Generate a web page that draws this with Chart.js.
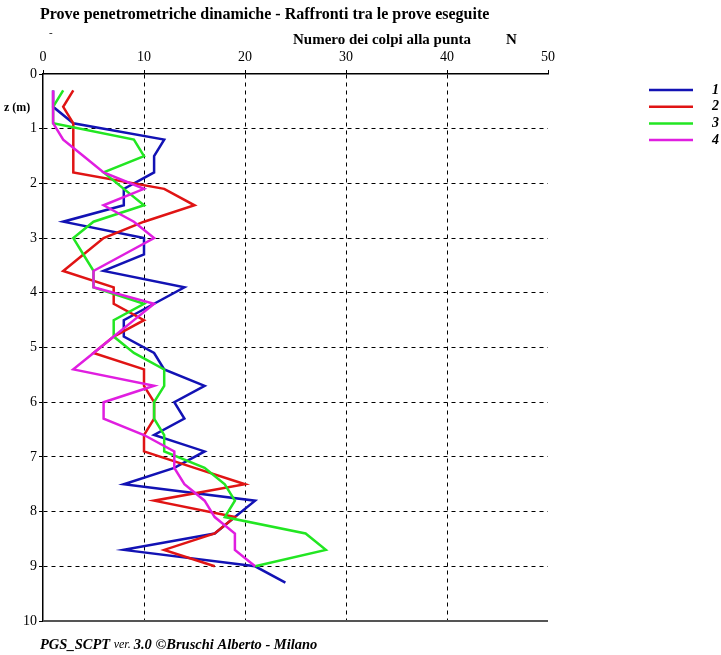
<!DOCTYPE html>
<html lang="it">
<head>
  <meta charset="UTF-8">
  <title>Prove penetrometriche dinamiche</title>
  <script src="https://cdn.jsdelivr.net/npm/chart.js"></script>
  <style>
    html, body { margin: 0; padding: 0; background: #fff; }
  </style>
</head>
<body>
  <canvas id="chartProve" width="721" height="655"></canvas>

  <script>
    // profondita' (m), passo 0.3 m
    const depths = [0.3, 0.6, 0.9, 1.2, 1.5, 1.8, 2.1, 2.4, 2.7, 3.0, 3.3, 3.6, 3.9, 4.2, 4.5, 4.8,
                    5.1, 5.4, 5.7, 6.0, 6.3, 6.6, 6.9, 7.2, 7.5, 7.8, 8.1, 8.4, 8.7, 9.0, 9.3];

    // numero dei colpi N per ogni prova
    const prova1 = [1, 1, 3, 12, 11, 11, 8, 8, 2, 10, 10, 6, 14, 11, 8, 8, 11, 12, 16, 13, 14, 11, 16, 13, 8, 21, 19, 17, 8, 21, 24];
    const prova2 = [3, 2, 3, 3, 3, 3, 12, 15, 10, 6, 4, 2, 7, 7, 10, 7, 5, 10, 10, 11, 11, 10, 10, 15, 20, 11, 19, 17, 12, 17];
    const prova3 = [2, 1, 1, 9, 10, 6, 8, 10, 5, 3, 4, 5, 5, 10, 7, 7, 9, 12, 12, 11, 11, 12, 12, 16, 18, 19, 18, 26, 28, 21];
    const prova4 = [1, 1, 1, 2, 4, 6, 10, 6, 9, 11, 8, 5, 5, 11, 9, 7, 5, 3, 11, 6, 6, 10, 13, 13, 14, 16, 17, 19, 19, 21];

    const labels = ['1', '2', '3', '4'];
    const colors = ['#1212b4', '#e01414', '#22e622', '#e01ee0'];

    const serif = 'Liberation Serif';

    function toPoints(values) {
      return values.map((n, i) => ({ x: n, y: depths[i] }));
    }

    // testi, legenda e linea di fondo
    const decorations = {
      id: 'decorations',
      afterDraw(chart) {
        const ctx = chart.ctx;
        const area = chart.chartArea;
        ctx.save();

        // linea di fondo a 10 m
        ctx.strokeStyle = '#555';
        ctx.lineWidth = 2;
        ctx.beginPath();
        ctx.moveTo(area.left, area.bottom);
        ctx.lineTo(area.right, area.bottom);
        ctx.stroke();

        ctx.fillStyle = '#000';
        ctx.textBaseline = 'middle';
        ctx.textAlign = 'left';

        ctx.font = 'bold 16px "' + serif + '"';
        ctx.fillText('Prove penetrometriche dinamiche - Raffronti tra le prove eseguite', 40, 15);

        ctx.font = '11px "' + serif + '"';
        ctx.fillText('-', 49, 33);

        ctx.font = 'bold 15px "' + serif + '"';
        ctx.fillText('Numero dei colpi alla punta', 293, 40);
        ctx.fillText('N', 506, 40);

        ctx.font = 'bold 12px "' + serif + '"';
        ctx.fillText('z (m)', 4, 108);

        // legenda
        chart.data.datasets.forEach((ds, i) => {
          const y = 90 + i * 16.7;
          ctx.strokeStyle = ds.borderColor;
          ctx.lineWidth = 2.5;
          ctx.beginPath();
          ctx.moveTo(649, y);
          ctx.lineTo(693, y);
          ctx.stroke();
          ctx.font = 'bold italic 14px "' + serif + '"';
          ctx.fillText(ds.label, 712, y);
        });

        // piede
        let x = 40;
        const y = 645;
        const parts = [
          ['bold italic 14.5px', 'PGS_SCPT '],
          ['italic 12px', 'ver. '],
          ['bold italic 14.5px', '3.0 \u00A9Bruschi Alberto - Milano']
        ];
        parts.forEach(([f, t]) => {
          ctx.font = f + ' "' + serif + '"';
          ctx.fillText(t, x, y);
          x += ctx.measureText(t).width;
        });

        ctx.restore();
      }
    };

    const datasets = [prova1, prova2, prova3, prova4].map((vals, i) => ({
      label: labels[i],
      data: toPoints(vals),
      borderColor: colors[i],
      backgroundColor: colors[i],
      borderWidth: 2.5,
      pointRadius: 0,
      tension: 0,
      fill: false,
      order: 4 - i
    }));

    new Chart(document.getElementById('chartProve'), {
      type: 'line',
      data: { datasets: datasets },
      options: {
        responsive: false,
        animation: false,
        devicePixelRatio: 1,
        layout: { padding: { left: 0, top: 0, right: 173, bottom: 34 } },
        plugins: { legend: { display: false }, tooltip: { enabled: false } },
        scales: {
          x: {
            type: 'linear',
            position: 'top',
            min: 0,
            max: 50,
            ticks: { stepSize: 10, color: '#000', font: { family: serif, size: 14 }, padding: 4 },
            grid: {
              color: c => (c.tick && (c.tick.value === 0 || c.tick.value === 50)) ? 'rgba(0,0,0,0)' : '#000',
              tickColor: '#000',
              tickLength: 4,
              lineWidth: 1
            },
            border: { display: true, color: '#000', width: 1.5, dash: [4, 4] },
            afterFit: s => { s.height = 74; }
          },
          y: {
            type: 'linear',
            reverse: true,
            min: 0,
            max: 10,
            ticks: { stepSize: 1, color: '#000', font: { family: serif, size: 14 }, padding: 2 },
            grid: {
              color: c => (c.tick && (c.tick.value === 0 || c.tick.value === 10)) ? 'rgba(0,0,0,0)' : '#000',
              tickColor: '#000',
              tickLength: 4,
              lineWidth: 1
            },
            border: { display: true, color: '#000', width: 1.5, dash: [4, 4] },
            afterFit: s => { s.width = 43; }
          }
        }
      },
      plugins: [decorations]
    });
  </script>
</body>
</html>
